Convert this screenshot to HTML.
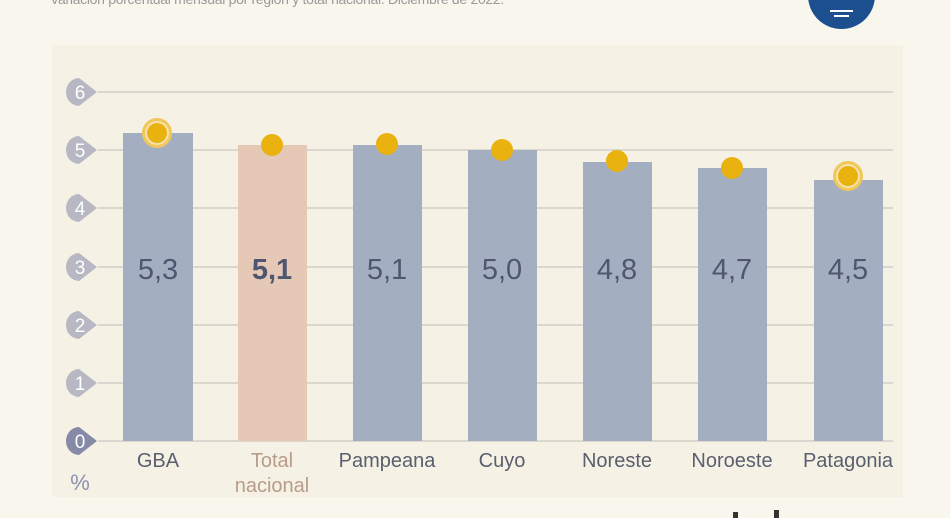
<!DOCTYPE html><html><head><style>
body{margin:0;width:950px;height:518px;overflow:hidden;background:#f9f6ee;font-family:"Liberation Sans",sans-serif;position:relative}
.sub{position:absolute;left:50px;top:-9px;font-size:14px;color:#9a9a9a;letter-spacing:-0.3px}
.logo{position:absolute;left:808px;top:-38px;width:67px;height:67px;border-radius:50%;background:#1c4f8f}
.panel{position:absolute;left:52px;top:45px;width:851px;height:452px;background:#f6f1e5}
</style></head><body>
<div class="sub">Variación porcentual mensual por región y total nacional. Diciembre de 2022.</div>
<div class="logo"><div style="position:absolute;left:22px;top:48px;width:23px;height:2px;background:#fff"></div><div style="position:absolute;left:26px;top:53px;width:15px;height:2px;background:#fff"></div></div>
<div class="panel"></div>
<svg width="950" height="518" style="position:absolute;left:0;top:0" font-family="Liberation Sans, sans-serif">
<g stroke="#d2cec6" stroke-width="1.5">
<line x1="98" x2="893" y1="92" y2="92"/><line x1="98" x2="893" y1="150" y2="150"/><line x1="98" x2="893" y1="208" y2="208"/><line x1="98" x2="893" y1="267" y2="267"/><line x1="98" x2="893" y1="325" y2="325"/><line x1="98" x2="893" y1="383" y2="383"/><line x1="98" x2="893" y1="441" y2="441"/>
</g>
<g font-size="19" fill="#fff" text-anchor="middle">
<g fill="#b8b8c4"><path d="M66,92 a13,14 0 0 1 13,-14 l18,14 l-18,14 a13,14 0 0 1 -13,-14z"/><path d="M66,150 a13,14 0 0 1 13,-14 l18,14 l-18,14 a13,14 0 0 1 -13,-14z"/><path d="M66,208 a13,14 0 0 1 13,-14 l18,14 l-18,14 a13,14 0 0 1 -13,-14z"/><path d="M66,267 a13,14 0 0 1 13,-14 l18,14 l-18,14 a13,14 0 0 1 -13,-14z"/><path d="M66,325 a13,14 0 0 1 13,-14 l18,14 l-18,14 a13,14 0 0 1 -13,-14z"/><path d="M66,383 a13,14 0 0 1 13,-14 l18,14 l-18,14 a13,14 0 0 1 -13,-14z"/></g>
<path fill="#868aa6" d="M66,441 a13,14 0 0 1 13,-14 l18,14 l-18,14 a13,14 0 0 1 -13,-14z"/>
<text x="80" y="99">6</text><text x="80" y="157">5</text><text x="80" y="215">4</text><text x="80" y="274">3</text><text x="80" y="332">2</text><text x="80" y="390">1</text><text x="80" y="448">0</text>
</g>
<g fill="#a3afc1">
<rect x="123" y="133" width="70" height="308"/>
<rect x="238" y="145" width="69" height="296" fill="#e6c8b6"/>
<rect x="353" y="145" width="69" height="296"/>
<rect x="468" y="150" width="69" height="291"/>
<rect x="583" y="162" width="69" height="279"/>
<rect x="698" y="168" width="69" height="273"/>
<rect x="814" y="180" width="69" height="261"/>
</g>
<g font-size="29" fill="#4f5670" text-anchor="middle">
<text x="158" y="279">5,3</text><text x="272" y="279" font-weight="bold">5,1</text><text x="387" y="279">5,1</text><text x="502" y="279">5,0</text><text x="617" y="279">4,8</text><text x="732" y="279">4,7</text><text x="848" y="279">4,5</text>
</g>
<g fill="#e9b20f">
<circle cx="157" cy="133" r="15" fill="#f2c75a"/><circle cx="157" cy="133" r="12" fill="#f6e3b0"/><circle cx="157" cy="133" r="10"/>
<circle cx="272" cy="145" r="11"/><circle cx="387" cy="144" r="11"/><circle cx="502" cy="150" r="11"/><circle cx="617" cy="161" r="11"/><circle cx="732" cy="168" r="11"/>
<circle cx="848" cy="176" r="15" fill="#f2c75a"/><circle cx="848" cy="176" r="12" fill="#f6e3b0"/><circle cx="848" cy="176" r="10"/>
</g>
<g font-size="20" fill="#5a5f6e" text-anchor="middle">
<text x="158" y="467">GBA</text><text x="272" y="467" fill="#b89c8a">Total</text><text x="272" y="492" fill="#b89c8a">nacional</text><text x="387" y="467">Pampeana</text><text x="502" y="467">Cuyo</text><text x="617" y="467">Noreste</text><text x="732" y="467">Noroeste</text><text x="848" y="467">Patagonia</text>
</g>
<text x="80" y="490" font-size="22" fill="#8a90b0" text-anchor="middle">%</text>
<g fill="#333"><rect x="733" y="512" width="5" height="6"/><rect x="774" y="510" width="5" height="8"/></g>
</svg>
</body></html>
